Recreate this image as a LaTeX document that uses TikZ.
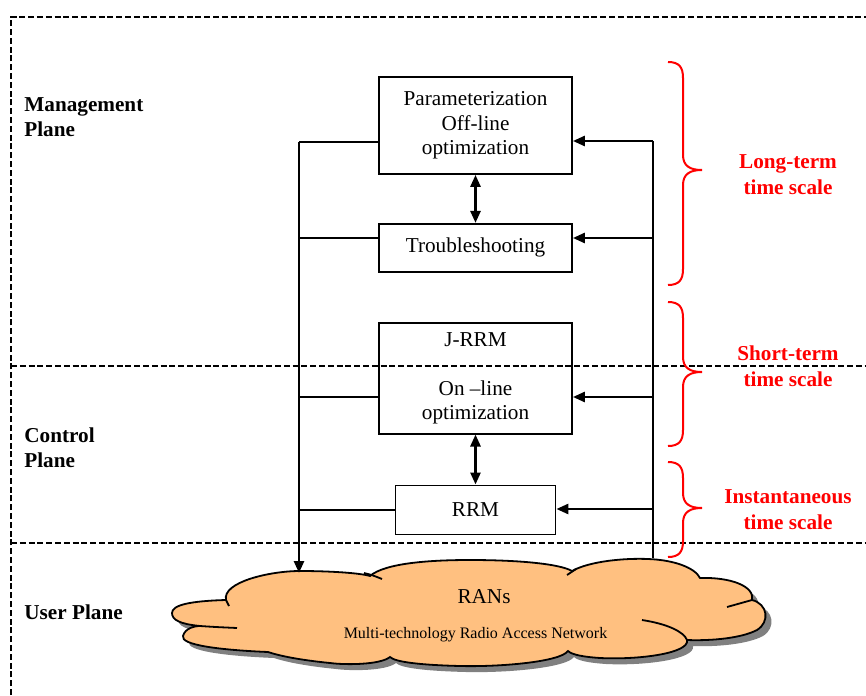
\documentclass[tikz,border=0pt]{standalone}
\usepackage{fontspec}
\setmainfont{Liberation Serif}
\usetikzlibrary{arrows.meta,positioning}
\definecolor{CloudOrange}{RGB}{255,192,128}
\definecolor{ShadowGray}{RGB}{128,128,128}
\definecolor{ScaleRed}{RGB}{255,0,0}
\newcommand{\ranscloud}{(200,626) .. controls (180,624) and (172,620) .. (172,613)
  .. controls (172,605) and (190,601) .. (226,600)
  .. controls (222,582) and (270,571) .. (300,571)
  .. controls (330,571) and (360,573) .. (370,576)
  .. controls (385,563) and (430,560) .. (470,560)
  .. controls (520,560) and (560,564) .. (572,571)
  .. controls (590,561) and (625,558) .. (648,559)
  .. controls (675,560) and (695,568) .. (700,578)
  .. controls (730,577) and (755,586) .. (752,600)
  .. controls (768,604) and (770,622) .. (757,630)
  .. controls (742,638) and (712,641) .. (687,640)
  .. controls (690,653) and (640,660) .. (600,658)
  .. controls (585,657) and (572,655) .. (568,651)
  .. controls (560,662) and (500,667) .. (460,666)
  .. controls (420,665) and (395,662) .. (390,657)
  .. controls (380,665) and (345,665) .. (330,663)
  .. controls (300,660) and (280,656) .. (268,652)
  .. controls (220,650) and (180,645) .. (183,636)
  .. controls (185,628) and (195,626) .. (200,626) -- cycle}

\begin{document}
\begin{tikzpicture}[x=0.5pt, y=-0.5pt,
  every node/.style={font=\fontsize{10.6}{12.25}\selectfont},
  block/.style={draw, line width=0.9pt, minimum width=96.5pt, inner sep=0pt, align=center},
  plane/.style={line width=1.1pt, dash pattern=on 3pt off 1.4pt},
  feed/.style={-{Triangle[length=6pt,width=5pt]}, line width=1.3pt},
  tie/.style={line width=0.7pt},
  both/.style={{Triangle[length=6pt,width=5pt]}-{Triangle[length=6pt,width=5pt]}, line width=1.3pt},
  planelabel/.style={anchor=west, align=left, inner sep=0pt, font=\fontsize{10.6}{12.5}\selectfont\bfseries},
  scalelabel/.style={align=center, inner sep=0pt, text=ScaleRed, font=\fontsize{10.6}{13}\selectfont\bfseries}]
\useasboundingbox (0,0) rectangle (866,695);

% planes
\draw[plane] (11,695) -- (11,17) -- (866,17);
\draw[plane] (11,366) -- (866,366);
\draw[plane] (11,543) -- (866,543);
\node[planelabel] (mgmt) at (24,117) {Management\\Plane};
\node[planelabel] (ctrl) at (24,448) {Control\\Plane};
\node[planelabel] (user) at (24,612) {User Plane};

% user plane cloud
\fill[ShadowGray, shift={(6,6)}] \ranscloud;
\filldraw[fill=CloudOrange, line width=0.9pt] \ranscloud;
\draw[line width=0.9pt] (200,626) .. controls (215,627) .. (237,628);
\draw[line width=0.9pt] (226,600) .. controls (227,603) .. (229,606);
\draw[line width=0.9pt] (364,573) .. controls (372,575) .. (382,579);
\draw[line width=0.9pt] (576,569) .. controls (572,572) .. (567,575);
\draw[line width=0.9pt] (727,607) .. controls (740,603) .. (752,600);
\draw[line width=0.9pt] (642,620) .. controls (668,624) and (684,632) .. (687,640);
\node (rans) at (484,597) {RANs};
\node[font=\fontsize{8}{9.6}\selectfont] (ranlong) at (475.5,635) {Multi-technology Radio Access Network};

% blocks
\node[block, minimum height=48.5pt] (param) at (475.5,125.5) {Parameterization\\Off-line\\optimization};
\node[block, minimum height=24pt, below=24pt of param] (trouble) {Troubleshooting};
\node[block, minimum height=55.5pt, below=24.5pt of trouble] (jrrm) {J-RRM\\[12.25pt]On –line\\optimization};
\node[block, minimum width=80pt, minimum height=24.5pt, below=25pt of jrrm] (rrm) {RRM};

% buses
\coordinate (ltop) at (299,142);
\coordinate (lend) at (299,573);
\coordinate (rtop) at (653,141);
\coordinate (rend) at (653,558);
\draw[feed] (ltop) -- (lend);
\draw[line width=1pt] (rtop) -- (rend);
\foreach \blk/\y in {param/142, trouble/238, jrrm/397, rrm/510}
  \draw[tie] (299,\y) coordinate (l\blk) -- (l\blk -| \blk.west);
\foreach \blk/\y in {param/141, trouble/238, jrrm/397, rrm/509}
  \draw[feed] (653,\y) coordinate (r\blk) -- (r\blk -| \blk.east);
\draw[both] (param) -- (trouble);
\draw[both] (jrrm) -- (rrm);

% time scales
\foreach \t/\m/\b in {62/170/285, 302/372/446, 462/508/557}
  \draw[ScaleRed, line width=1pt] (668,\t) .. controls (679,\t) and (683,\t+5) .. (683,\t+16)
    -- (683,\m-15) .. controls (683,\m-4) and (690,\m) .. (702,\m)
    .. controls (690,\m) and (683,\m+4) .. (683,\m+15)
    -- (683,\b-16) .. controls (683,\b-5) and (679,\b) .. (668,\b);
\node[scalelabel] (longterm) at (788,175) {Long-term\\time scale};
\node[scalelabel] (shortterm) at (788,366) {Short-term\\time scale};
\node[scalelabel] (instant) at (788,510) {Instantaneous\\time scale};
\end{tikzpicture}
\end{document}
